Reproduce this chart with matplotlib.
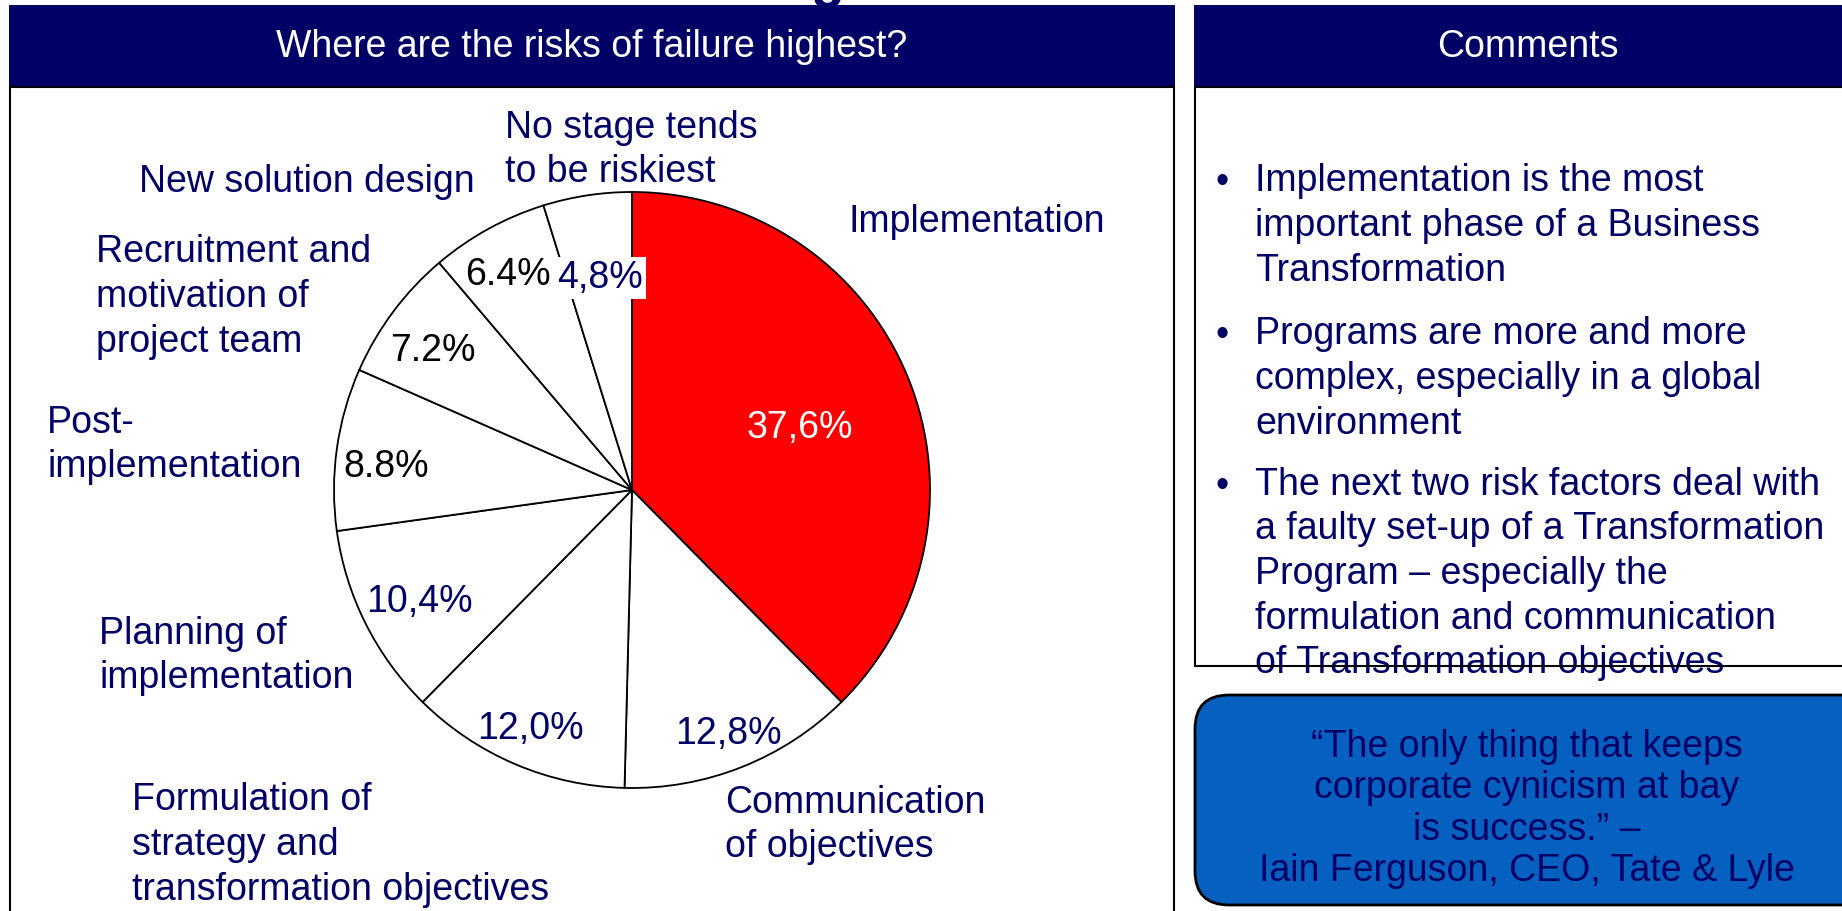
import numpy as np
import matplotlib
matplotlib.use('Agg')
import matplotlib.pyplot as plt
from matplotlib.patches import Rectangle, FancyBboxPatch

plt.rcParams['font.family'] = ['Liberation Sans', 'DejaVu Sans']

AZUL = '#000066'

# Datos del grafico de tarta
etapas = ['Implementation',
          'Communication\nof objectives',
          'Formulation of\nstrategy and\ntransformation objectives',
          'Planning of\nimplementation',
          'Post-\nimplementation',
          'Recruitment and\nmotivation of\nproject team',
          'New solution design',
          'No stage tends\nto be riskiest']
porcentajes = [37.6, 12.8, 12.0, 10.4, 8.8, 7.2, 6.4, 4.8]
etiquetas_pct = ['37,6%', '12,8%', '12,0%', '10,4%', '8.8%', '7.2%', '6.4%', '4,8%']

# Textos de los paneles
titulo_izq = 'Where are the risks of failure highest?'
titulo_der = 'Comments'
comentarios = ['Implementation is the most\nimportant phase of a Business\nTransformation',
               'Programs are more and more\ncomplex, especially in a global\nenvironment',
               'The next two risk factors deal with\na faulty set-up of a Transformation\n'
               'Program \u2013 especially the\nformulation and communication\nof Transformation objectives']
cita = '\u201cThe only thing that keeps\ncorporate cynicism at bay\nis success.\u201d \u2013\nIain Ferguson, CEO, Tate & Lyle'

# Estilo / posiciones (pixeles)
colores = ['#FF0000'] + ['white'] * 7
color_pct = ['white', AZUL, AZUL, AZUL, 'black', 'black', 'black', AZUL]
dist_pct = [0.60, 0.88, 0.87, 0.807, 0.83, 0.815, 0.833, 0.72]
giro_pct = [-2.0, 0, 0, 1.1, 2.6, 1.8, 1.3, 0]
pos_etapas = [(848, 222), (725, 825), (132, 845), (99, 656), (47, 445),
              (96, 297), (139, 182), (505, 150)]
y_comentarios = [226, 379, 574]
y_bullets = [183, 336, 487]
FS = 27

W, H = 1842, 911
fig = plt.figure(figsize=(W / 100, H / 100), dpi=100)

# Capa de fondo en coordenadas de pixel
bg = fig.add_axes([0, 0, 1, 1])
bg.set_xlim(0, W)
bg.set_ylim(H, 0)
bg.axis('off')

# resto del titulo cortado arriba
bg.text(828, -4, 'g', fontsize=40, fontweight='bold', color=AZUL,
        ha='center', va='baseline', zorder=1)

# Cabeceras
bg.add_patch(Rectangle((9, 5), 1166, 82, facecolor=AZUL, edgecolor='none', zorder=2))
bg.add_patch(Rectangle((1194, 5), 700, 82, facecolor=AZUL, edgecolor='none', zorder=2))
bg.text(592, 47, titulo_izq, color='white', fontsize=FS, ha='center', va='center', zorder=3)
bg.text(1528, 47, titulo_der, color='white', fontsize=FS, ha='center', va='center', zorder=3)

# Cajas de los paneles
bg.add_patch(Rectangle((9.5, 87), 1164.5, 860, fill=False, edgecolor='black', linewidth=1.5, zorder=4))
bg.add_patch(Rectangle((1194.5, 87), 700, 579, fill=False, edgecolor='black', linewidth=1.5, zorder=4))

# Comentarios con vinetas
for txt, yc, yb in zip(comentarios, y_comentarios, y_bullets):
    bg.text(1255, yc, txt, color=AZUL, fontsize=FS, ha='left', va='center',
            linespacing=1.31, zorder=3)
    bg.text(1215, yb, '\u2022', color=AZUL, fontsize=FS, ha='left', va='center', zorder=3)

# Caja de la cita
bg.add_patch(FancyBboxPatch((1195, 695), 700, 210, boxstyle='round,pad=0,rounding_size=34',
                            facecolor='#0660BF', edgecolor='black', linewidth=2, zorder=2))
bg.text(1527, 809, cita, color=AZUL, fontsize=FS, ha='center', va='center',
        linespacing=1.19, zorder=3)

# Etiquetas de las etapas
for txt, (x, y) in zip(etapas, pos_etapas):
    bg.text(x, y, txt, color=AZUL, fontsize=FS, ha='left', va='center',
            linespacing=1.31, zorder=3)

# Grafico de tarta
cx, cy, R = 632, 490, 298
ax = fig.add_axes([(cx - R) / W, (H - cy - R) / H, 2 * R / W, 2 * R / H])
wedges, _ = ax.pie(porcentajes, colors=colores, startangle=90, counterclock=False,
                   wedgeprops=dict(edgecolor='black', linewidth=1.3))
ax.set_xlim(-1, 1)
ax.set_ylim(-1, 1)
ax.set_aspect('equal')

for w, txt, r, g, c in zip(wedges, etiquetas_pct, dist_pct, giro_pct, color_pct):
    ang = np.deg2rad((w.theta1 + w.theta2) / 2 + g)
    caja = None
    if txt == '4,8%':
        caja = dict(boxstyle='square,pad=0.08', facecolor='white', edgecolor='none')
    ax.text(r * np.cos(ang), r * np.sin(ang), txt, color=c, fontsize=FS,
            ha='center', va='center', bbox=caja)

fig.savefig('out.png', dpi=100)
